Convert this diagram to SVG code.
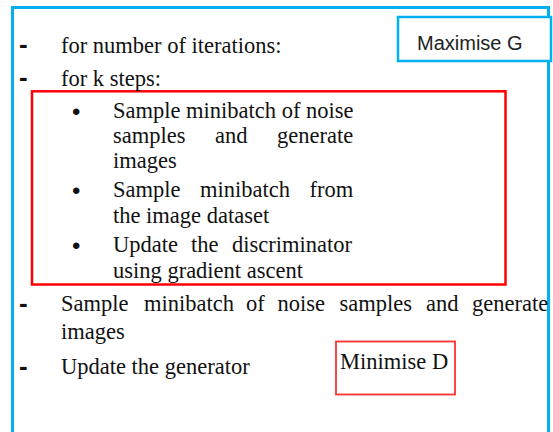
<svg xmlns="http://www.w3.org/2000/svg" width="553" height="432" viewBox="0 0 553 432">
<style>
.t{font-family:"Liberation Serif","Times New Roman",serif;font-size:22.5px;fill:#111;}
.d{font-family:"Liberation Sans",Arial,sans-serif;font-size:26px;font-weight:bold;fill:#111;}
.b{font-family:"Liberation Sans",Arial,sans-serif;font-size:24px;fill:#111;}
.s{font-family:"Liberation Sans",Arial,sans-serif;font-size:20px;fill:#222;}
</style>
<rect width="553" height="432" fill="#fff"/>
<g id="frame">
<rect x="12.5" y="7.5" width="536" height="440" fill="none" stroke="#00B0F0" stroke-width="3"/>
</g>
<g id="maximise">
<rect x="398" y="17" width="153" height="44" fill="#fff" stroke="#00B0F0" stroke-width="2.5"/>
<text class="s" x="417" y="50">Maximise G</text>
</g>
<g id="discriminator-loop">
<rect x="32" y="91.3" width="473.5" height="193.2" fill="none" stroke="#FF0000" stroke-width="2.5"/>
</g>
<g id="list">
<text class="d" x="19" y="53">-</text>
<text class="t" x="61" y="53">for number of iterations:</text>
<text class="d" x="19" y="86">-</text>
<text class="t" x="61" y="86">for k steps:</text>

<text class="b" x="72" y="120">•</text>
<text class="t" x="113" y="118">Sample minibatch of noise</text>
<text class="t" y="143"><tspan x="113">samples</tspan><tspan x="215">and</tspan><tspan x="277">generate</tspan></text>
<text class="t" x="113" y="168">images</text>

<text class="b" x="72" y="199">•</text>
<text class="t" y="197"><tspan x="113">Sample</tspan><tspan x="200">minibatch</tspan><tspan x="309.5">from</tspan></text>
<text class="t" x="113" y="223">the image dataset</text>

<text class="b" x="72" y="254">•</text>
<text class="t" y="252"><tspan x="113">Update</tspan><tspan x="191">the</tspan><tspan x="232">discriminator</tspan></text>
<text class="t" x="113" y="278">using gradient ascent</text>

<text class="d" x="19" y="312">-</text>
<text class="t" y="311"><tspan x="61">Sample</tspan><tspan x="144">minibatch</tspan><tspan x="246">of</tspan><tspan x="277.5">noise</tspan><tspan x="339.5">samples</tspan><tspan x="426">and</tspan><tspan x="472">generate</tspan></text>
<text class="t" x="61" y="339">images</text>

<text class="d" x="19" y="375">-</text>
<text class="t" x="61" y="374">Update the generator</text>
</g>
<g id="minimise">
<rect x="336" y="341.5" width="119" height="53" fill="none" stroke="#FF3030" stroke-width="1.8"/>
<text class="t" x="340" y="369">Minimise D</text>
</g>
</svg>
